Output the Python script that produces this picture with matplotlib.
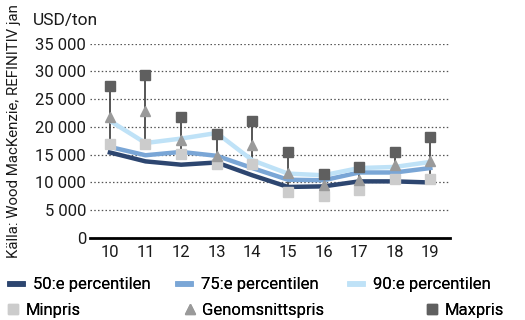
import matplotlib

matplotlib.use("Agg")
import matplotlib.pyplot as plt
from matplotlib import font_manager
from matplotlib.lines import Line2D
from matplotlib.ticker import FuncFormatter

# Pick a narrow font if one is installed, else plain sans.
names = {f.name for f in font_manager.fontManager.ttflist}
FONT = next((n for n in ["Liberation Sans Narrow", "Roboto", "DejaVu Sans"] if n in names), "DejaVu Sans")
plt.rcParams["font.family"] = [FONT, "DejaVu Sans"]

years = ["10", "11", "12", "13", "14", "15", "16", "17", "18", "19"]
p50 = [15400, 13800, 13200, 13600, 11300, 9200, 9300, 10200, 10200, 10000]
p75 = [16400, 14900, 15500, 14800, 12600, 10500, 10400, 11800, 11800, 12600]
p90 = [21100, 17100, 17900, 18900, 14000, 11600, 11300, 12600, 12800, 13700]
minpris = [17000, 16900, 15200, 13300, 13400, 8300, 7600, 8700, 10600, 10700]
medelpris = [21800, 22800, 17600, 14800, 16800, 11700, 9500, 10400, 13100, 13900]
maxpris = [27300, 29300, 21700, 18700, 21000, 15400, 11600, 12800, 15500, 18100]

C50, C75, C90 = "#2d4670", "#7aa6d6", "#bfe2f7"
CMIN, CAVG, CMAX = "#cccccc", "#9a9a9a", "#5f5f5f"

fig = plt.figure(figsize=(5.25, 3.2), dpi=100)
ax = fig.add_axes([0.172, 0.256, 0.685, 0.608])
x = list(range(len(years)))

ax.vlines(x, minpris, maxpris, color="#3a3a3a", lw=1.2, zorder=2)
ax.plot(x, p50, color=C50, lw=3.2, zorder=3)
ax.plot(x, p75, color=C75, lw=3.2, zorder=3)
ax.plot(x, p90, color=C90, lw=3.2, zorder=3)
ax.plot(x, minpris, "s", color=CMIN, ms=7, zorder=4)
ax.plot(x, medelpris, "^", color=CAVG, ms=7, zorder=4)
ax.plot(x, maxpris, "s", color=CMAX, ms=7, zorder=4)

ax.set_ylim(0, 35000)
ax.set_xlim(-0.55, len(years) - 0.45)
ax.set_yticks(range(0, 35001, 5000))
ax.yaxis.set_major_formatter(FuncFormatter(lambda v, _: f"{int(v):,}".replace(",", " ")))
ax.set_xticks(x)
ax.set_xticklabels(years)
ax.tick_params(length=0, labelsize=12, colors="#1a1a1a")
ax.tick_params(axis="y", pad=3)
ax.tick_params(axis="x", pad=5)
ax.grid(axis="y", linestyle=(0, (1.2, 1.8)), color="#555555", lw=0.9)
for side in ["top", "right", "left"]:
    ax.spines[side].set_visible(False)
ax.spines["bottom"].set_linewidth(2)
ax.spines["bottom"].set_color("black")
ax.set_axisbelow(True)

fig.text(33 / 525, 1 - 20 / 320, "USD/ton", fontsize=12.5, va="center", color="#1a1a1a")
fig.text(0.027, 0.59, "Källa: Wood MacKenzie, REFINITIV jan", fontsize=10.8,
         rotation=90, va="center", ha="center", color="#1a1a1a")

# Legend: one entry per box so each sits where the reference has it.
handles = [Line2D([], [], color=c, lw=4) for c in (C50, C75, C90)]
handles += [Line2D([], [], ls="", marker=m, color=c, ms=7)
            for m, c in (("s", CMIN), ("^", CAVG), ("s", CMAX))]
labels = ["50:e percentilen", "75:e percentilen", "90:e percentilen",
          "Minpris", "Genomsnittspris", "Maxpris"]
spots = [(10, 285), (178, 285), (350, 285), (6, 310), (183, 310), (425, 310)]
for i, (h, lab, (px, py)) in enumerate(zip(handles, labels, spots)):
    leg = fig.legend([h], [lab], loc="center left", bbox_to_anchor=(px / 525, 1 - py / 320),
                     frameon=False, fontsize=12, handlelength=0.8,
                     handletextpad=0.6 if i < 3 else 0.35,
                     borderaxespad=0, borderpad=0)
    fig.add_artist(leg)

fig.savefig("out.png", dpi=100)
